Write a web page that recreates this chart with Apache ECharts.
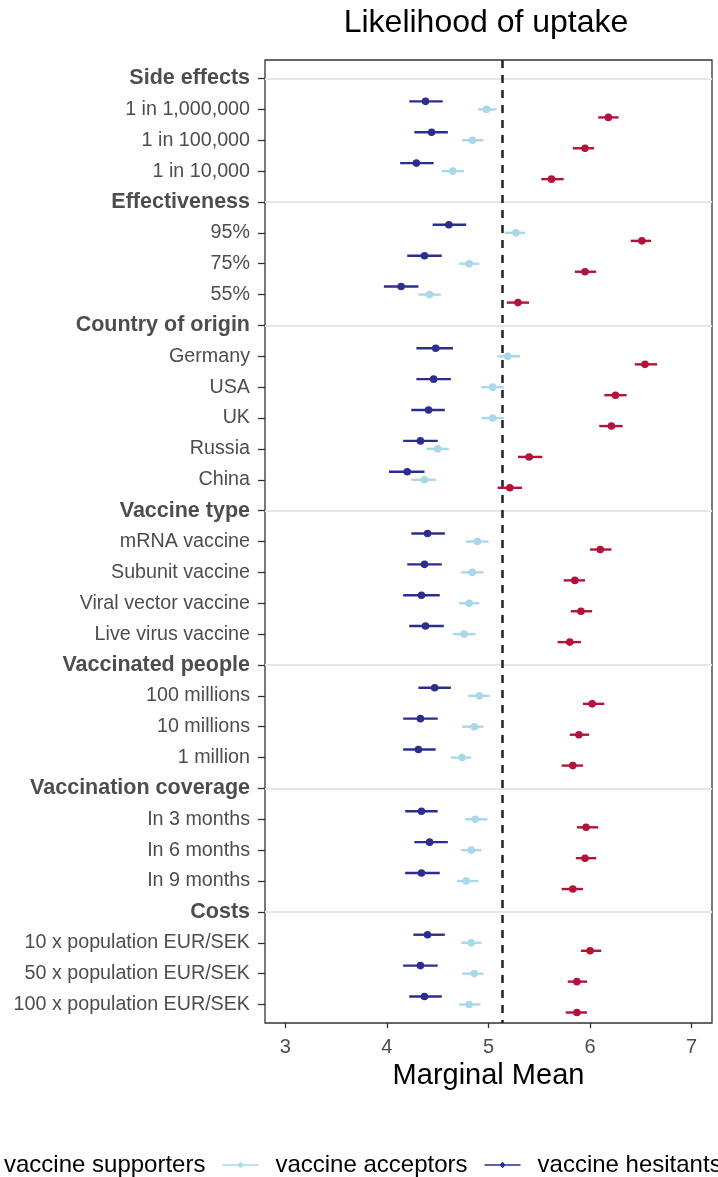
<!DOCTYPE html>
<html>
<head>
<meta charset="utf-8">
<script src="https://cdn.jsdelivr.net/npm/echarts@6/dist/echarts.min.js"></script>
<style>
html,body{margin:0;padding:0;background:#fff;}
#chart{width:718px;height:1177px;}
</style>
</head>
<body>
<div id="chart"></div>
<script>
// ---- data ----
const categories = ['Side effects','1 in 1,000,000','1 in 100,000','1 in 10,000',
  'Effectiveness','95%','75%','55%',
  'Country of origin','Germany','USA','UK','Russia','China',
  'Vaccine type','mRNA vaccine','Subunit vaccine','Viral vector vaccine','Live virus vaccine',
  'Vaccinated people','100 millions','10 millions','1 million',
  'Vaccination coverage','In 3 months','In 6 months','In 9 months',
  'Costs','10 x population EUR/SEK','50 x population EUR/SEK','100 x population EUR/SEK'];
const headers = ['Side effects','Effectiveness','Country of origin','Vaccine type',
  'Vaccinated people','Vaccination coverage','Costs'];

const groupNames = ['vaccine supporters','vaccine acceptors','vaccine hesitants'];
const xTicks = [3,4,5,6,7];
const referenceLine = 5.145;

// values per category row (null for header rows)
const hesitantsMean = [null,4.38,4.44,4.29, null,4.61,4.37,4.14, null,4.48,4.46,4.41,4.33,4.20,
  null,4.40,4.37,4.34,4.38, null,4.47,4.33,4.31, null,4.34,4.42,4.34, null,4.40,4.33,4.37];
const hesitantsLow  = [null,4.22,4.27,4.13, null,4.45,4.20,3.97, null,4.29,4.29,4.24,4.16,4.02,
  null,4.24,4.20,4.16,4.22, null,4.31,4.16,4.16, null,4.18,4.27,4.18, null,4.26,4.16,4.22];
const hesitantsHigh = [null,4.55,4.60,4.46, null,4.78,4.54,4.31, null,4.65,4.63,4.57,4.50,4.37,
  null,4.57,4.54,4.52,4.56, null,4.63,4.50,4.48, null,4.50,4.60,4.52, null,4.57,4.50,4.54];

const acceptorsMean = [null,4.98,4.84,4.65, null,5.27,4.81,4.42, null,5.19,5.04,5.04,4.50,4.37,
  null,4.89,4.84,4.81,4.76, null,4.91,4.86,4.74, null,4.87,4.83,4.78, null,4.83,4.86,4.81];
const acceptorsLow  = [null,4.90,4.74,4.54, null,5.16,4.71,4.31, null,5.09,4.93,4.93,4.39,4.24,
  null,4.78,4.73,4.71,4.65, null,4.80,4.74,4.63, null,4.77,4.73,4.69, null,4.73,4.74,4.71];
const acceptorsHigh = [null,5.08,4.95,4.76, null,5.36,4.91,4.53, null,5.31,5.15,5.15,4.61,4.48,
  null,5.00,4.95,4.91,4.87, null,5.01,4.95,4.83, null,4.99,4.93,4.90, null,4.93,4.95,4.92];

const supportersMean = [null,6.18,5.95,5.62, null,6.51,5.95,5.29, null,6.54,6.25,6.21,5.40,5.21,
  null,6.10,5.85,5.91,5.80, null,6.02,5.89,5.83, null,5.96,5.95,5.83, null,6.00,5.87,5.87];
const supportersLow  = [null,6.08,5.83,5.52, null,6.40,5.85,5.18, null,6.44,6.14,6.09,5.29,5.09,
  null,6.00,5.74,5.81,5.68, null,5.93,5.80,5.72, null,5.87,5.86,5.72, null,5.91,5.78,5.76];
const supportersHigh = [null,6.28,6.04,5.74, null,6.60,6.06,5.40, null,6.66,6.36,6.32,5.53,5.33,
  null,6.21,5.95,6.02,5.91, null,6.14,5.99,5.93, null,6.08,6.06,5.93, null,6.11,5.97,5.97];

// ---- build ----
const FONT = "'Liberation Sans', Arial, sans-serif";
const colors = {supporters:'#B3123A', acceptors:'#A9D8E8', hesitants:'#2C2E8F'};
const rowIndex = categories.map((c, i) => i);

function rows(mean, lo, hi){
  const out = [];
  for (let i = 0; i < categories.length; i++) {
    if (mean[i] != null) out.push([i, mean[i], lo[i], hi[i]]);
  }
  return out;
}
function makeRender(offsetFrac, color){
  return function(params, api){
    const cat = api.value(0);
    const p = api.coord([api.value(1), cat]);
    const a = api.coord([api.value(2), cat]);
    const b = api.coord([api.value(3), cat]);
    const band = Math.abs(api.size([0,1])[1]);
    const y = p[1] + offsetFrac * band;
    return {type:'group', children:[
      {type:'line', shape:{x1:a[0], y1:y, x2:b[0], y2:y}, style:{stroke:color, lineWidth:2.4}},
      {type:'circle', shape:{cx:p[0], cy:y, r:3.8}, style:{fill:color}}
    ]};
  };
}
function pointSeries(name, color, offsetFrac, mean, lo, hi){
  return {
    name, type:'custom', coordinateSystem:'cartesian2d',
    itemStyle:{color},
    encode:{x:[1,2,3], y:0},
    renderItem: makeRender(offsetFrac, color),
    data: rows(mean, lo, hi),
    z: 5
  };
}

const legendIcon = 'path://M0,4.2L36,4.2L36,5.8L0,5.8Z M18,1.8L21.2,5L18,8.2L14.8,5Z';

const chart = echarts.init(document.getElementById('chart'), null, {renderer:'canvas'});
chart.setOption({
  animation:false,
  backgroundColor:'#fff',
  graphic:[{
    type:'text', x:486, y:23,
    style:{text:'Likelihood of uptake', font:'32px ' + FONT, fill:'#000', align:'center', verticalAlign:'middle'}
  }],
  grid:{left:265, right:6, top:60, height:963, show:true, borderColor:'#333', borderWidth:1.3, backgroundColor:'transparent'},
  legend:{
    data:groupNames, left:-54, top:1148, width:1000,
    icon:legendIcon, itemWidth:36, itemHeight:10, itemGap:17,
    textStyle:{fontFamily:FONT, fontSize:24, color:'#000', padding:[0,0,0,12]},
    selectedMode:false
  },
  xAxis:{
    type:'value', min:2.8, max:7.2, position:'bottom',
    name:'Marginal Mean', nameLocation:'middle', nameGap:38,
    nameTextStyle:{fontFamily:FONT, fontSize:29, color:'#000'},
    axisLine:{show:false, onZero:false},
    axisTick:{show:true, customValues:xTicks, length:5, lineStyle:{color:'#333', width:1.3}},
    axisLabel:{customValues:xTicks, fontFamily:FONT, fontSize:20, color:'#4D4D4D', margin:14},
    splitLine:{show:false}
  },
  yAxis:{
    type:'value', inverse:true, min:-0.6, max:30.6, position:'left',
    axisLine:{show:false, onZero:false},
    axisTick:{show:true, customValues:rowIndex, length:7, lineStyle:{color:'#333', width:1.3}},
    axisLabel:{
      customValues:rowIndex,
      margin:15, fontFamily:FONT, fontSize:19.7, color:'#4D4D4D',
      formatter: v => {
        const name = categories[Math.round(v)];
        return headers.includes(name) ? '{h|' + name + '}' : name;
      },
      rich:{h:{fontFamily:FONT, fontSize:21.5, fontWeight:'bold', color:'#4D4D4D'}}
    },
    splitLine:{show:false}
  },
  series:[
    {
      name:'guides', type:'line', data:[], silent:true, z:1,
      markLine:{
        silent:true, symbol:['none','none'], animation:false,
        label:{show:false},
        lineStyle:{color:'#E6E6E6', width:2, type:'solid'},
        data: headers.map(h => ({yAxis:categories.indexOf(h)}))
      }
    },
    {
      name:'ref', type:'line', data:[], silent:true, z:2,
      markLine:{
        silent:true, symbol:['none','none'], animation:false,
        label:{show:false},
        lineStyle:{color:'#222', width:2.5, type:[8,7]},
        data:[{xAxis:referenceLine}]
      }
    },
    pointSeries(groupNames[0], colors.supporters, 0.26, supportersMean, supportersLow, supportersHigh),
    pointSeries(groupNames[1], colors.acceptors, 0, acceptorsMean, acceptorsLow, acceptorsHigh),
    pointSeries(groupNames[2], colors.hesitants, -0.26, hesitantsMean, hesitantsLow, hesitantsHigh)
  ]
});
</script>
</body>
</html>
